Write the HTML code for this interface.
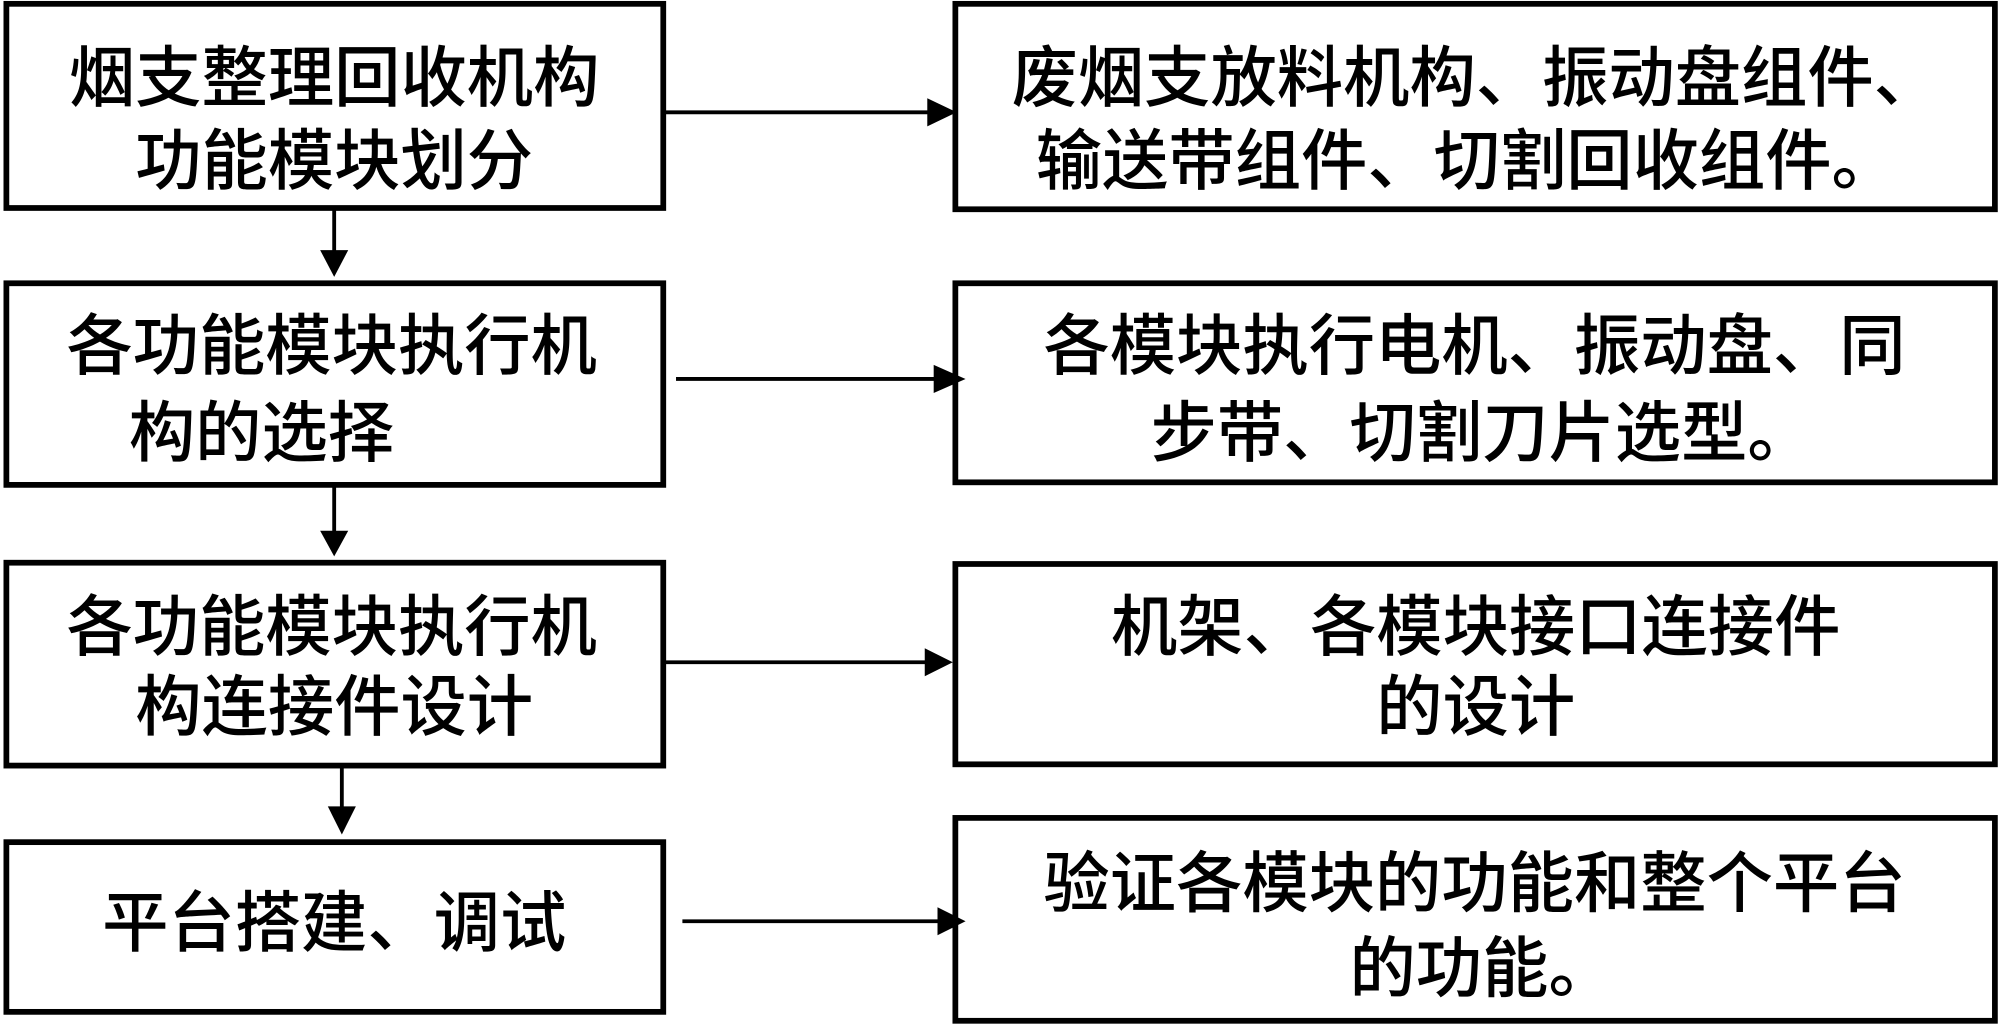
<!DOCTYPE html>
<html><head><meta charset="utf-8"><style>
html,body{margin:0;padding:0;background:#fff;}
svg{display:block;}
text{font-family:"Liberation Sans","Noto Sans CJK SC",sans-serif;font-size:52px;font-weight:500;fill:#000;}
</style></head><body>
<svg width="2000" height="1031" viewBox="0 0 1568 808" preserveAspectRatio="none" xmlns="http://www.w3.org/2000/svg">
<g fill="#fff" stroke="#000" stroke-width="4.5">
<rect x="5" y="3" width="515" height="160"/>
<rect x="5" y="222" width="515" height="158"/>
<rect x="5" y="441" width="515" height="159"/>
<rect x="5" y="660" width="515" height="133"/>
<rect x="749" y="3" width="815" height="161"/>
<rect x="749" y="222" width="815" height="156"/>
<rect x="749" y="442" width="815" height="157"/>
<rect x="749" y="641" width="815" height="159"/>
</g>
<g stroke="#000" stroke-width="3">
<line x1="520" y1="88" x2="730" y2="88"/>
<line x1="530" y1="297" x2="735" y2="297"/>
<line x1="520" y1="519" x2="728" y2="519"/>
<line x1="535" y1="722" x2="737" y2="722"/>
<line x1="262" y1="163" x2="262" y2="200"/>
<line x1="262" y1="380" x2="262" y2="420"/>
<line x1="268" y1="600" x2="268" y2="636"/>
</g>
<g fill="#000">
<polygon points="727,77 750,88 727,99"/>
<polygon points="732,286 757,297 732,308"/>
<polygon points="725,508 747,519 725,530"/>
<polygon points="735,711 757,722 735,733"/>
<polygon points="251,196 273,196 262,217"/>
<polygon points="251,416 273,416 262,436"/>
<polygon points="257,632 279,632 268,654"/>
</g>
<g text-anchor="middle" dominant-baseline="central">
<text x="262" y="62">烟支整理回收机构</text>
<text x="262" y="127">功能模块划分</text>
<text x="260" y="272">各功能模块执行机</text>
<text x="205" y="340">构的选择</text>
<text x="260" y="492">各功能模块执行机</text>
<text x="262" y="555">构连接件设计</text>
<text x="262" y="724">平台搭建、调试</text>
<text x="1157" y="62">废烟支放料机构、振动盘组件、</text>
<text x="1150" y="127">输送带组件、切割回收组件。</text>
<text x="1156" y="272">各模块执行电机、振动盘、同</text>
<text x="1162" y="340">步带、切割刀片选型。</text>
<text x="1157" y="492">机架、各模块接口连接件</text>
<text x="1157" y="555">的设计</text>
<text x="1156" y="693">验证各模块的功能和整个平台</text>
<text x="1162" y="760">的功能。</text>
</g>
</svg>
</body></html>
